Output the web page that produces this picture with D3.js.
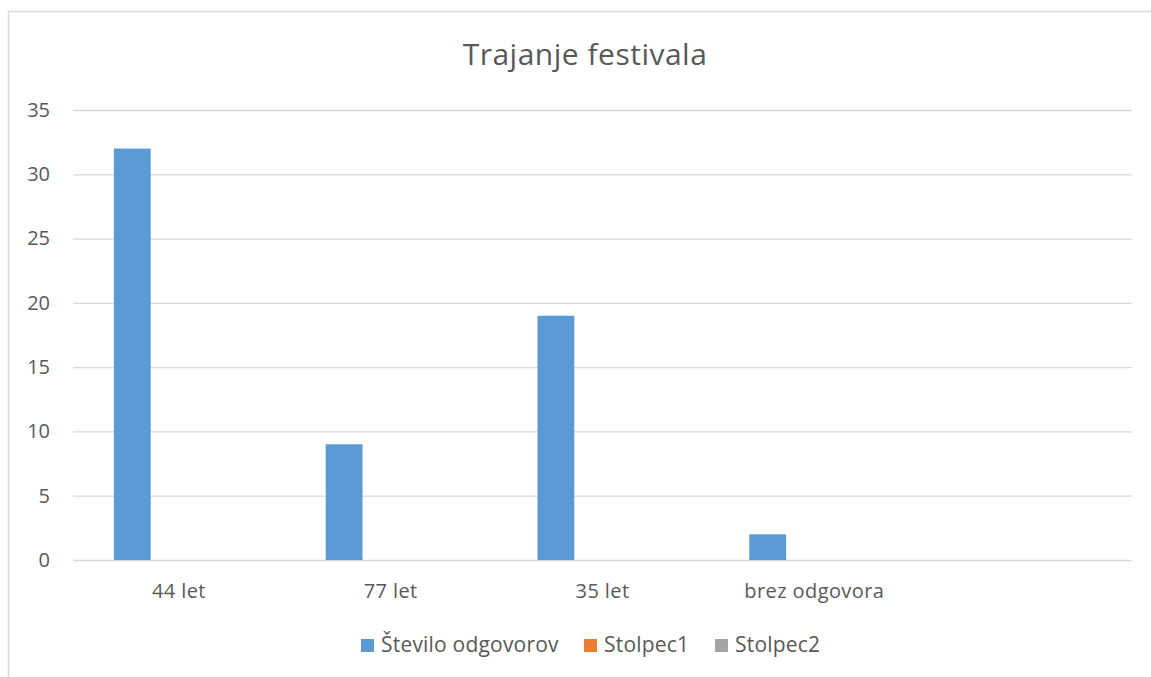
<!DOCTYPE html>
<html>
<head>
<meta charset="utf-8">
<script src="https://cdn.jsdelivr.net/npm/d3@7"></script>
<style>
  html, body { margin: 0; padding: 0; background: #fff; }
  svg { display: block; font-family: "Open Sans", "Noto Sans", sans-serif; }
</style>
</head>
<body>
<svg id="chart" width="1151" height="677"></svg>
<script>
const title = "Trajanje festivala";
const categories = ["44 let", "77 let", "35 let", "brez odgovora", ""];
const seriesNames = ["Število odgovorov", "Stolpec1", "Stolpec2"];
const seriesColors = ["#5b9bd5", "#ed7d31", "#a5a5a5"];
const stevilo = [32, 9, 19, 2, null];
const stolpec1 = [null, null, null, null, null];
const stolpec2 = [null, null, null, null, null];
const seriesValues = [stevilo, stolpec1, stolpec2];
const yTicks = [0, 5, 10, 15, 20, 25, 30, 35];

const svg = d3.select("#chart");
const W = 1151, H = 677;

// chart frame border
svg.append("path")
  .attr("d", `M8.5,${H} V11.5 H${W}`)
  .attr("fill", "none").attr("stroke", "#d9d9d9").attr("stroke-width", 1.5);

const plot = { left: 73, right: 1132, top: 110, bottom: 560 };

const x0 = d3.scaleBand().domain(d3.range(categories.length))
  .range([plot.left, plot.right]).padding(0);
const bw = x0.bandwidth();
const x1 = d3.scaleBand().domain(d3.range(seriesNames.length))
  .range([bw * 0.193, bw * 0.193 + 3 * bw * 0.174]).padding(0);
const y = d3.scaleLinear().domain([0, 35]).range([plot.bottom, plot.top]);

// gridlines + y labels
const yAxis = d3.axisLeft(y).tickValues(yTicks).tickSize(-(plot.right - plot.left)).tickPadding(23);
const gy = svg.append("g").attr("transform", `translate(${plot.left},0)`).call(yAxis);
gy.select(".domain").remove();
gy.selectAll(".tick line").attr("stroke", "#d9d9d9").attr("stroke-width", 1.3);
gy.selectAll(".tick text").attr("fill", "#595959").style("font-size", "20px")
  .style("font-family", "'Open Sans', sans-serif");

// x axis labels
const xAxis = d3.axisBottom(x0).tickFormat(i => categories[i]).tickSize(0);
const gx = svg.append("g").attr("transform", `translate(0,${plot.bottom})`).call(xAxis);
gx.select(".domain").remove();
gx.selectAll(".tick text").attr("fill", "#595959").style("font-size", "20px")
  .style("letter-spacing", "0.4px")
  .style("font-family", "'Open Sans', sans-serif")
  .attr("y", 38).attr("dy", 0);

// bars
const groups = svg.append("g").selectAll("g").data(categories.map((c, i) => i)).join("g")
  .attr("transform", i => `translate(${x0(i)},0)`);
groups.selectAll("rect")
  .data(i => seriesValues.map((s, k) => ({ k, v: s[i] })).filter(d => d.v != null && d.v > 0))
  .join("rect")
  .attr("x", d => x1(d.k))
  .attr("width", x1.bandwidth())
  .attr("y", d => y(d.v))
  .attr("height", d => y(0) - y(d.v))
  .attr("fill", d => seriesColors[d.k]);

// title
svg.append("text").attr("x", 585).attr("y", 64.5).attr("text-anchor", "middle")
  .attr("fill", "#595959").style("font-size", "30px").style("letter-spacing", "0.5px").text(title);

// legend
const legendX = [361, 584, 715];
const lg = svg.append("g").selectAll("g").data(seriesNames).join("g")
  .attr("transform", (d, i) => `translate(${legendX[i]},639)`);
lg.append("rect").attr("width", 13).attr("height", 13).attr("fill", (d, i) => seriesColors[i]);
lg.append("text").attr("x", 20).attr("y", 12.5).attr("fill", "#595959")
  .style("font-size", "21px").style("letter-spacing", "0.2px").text(d => d);
</script>
</body>
</html>
